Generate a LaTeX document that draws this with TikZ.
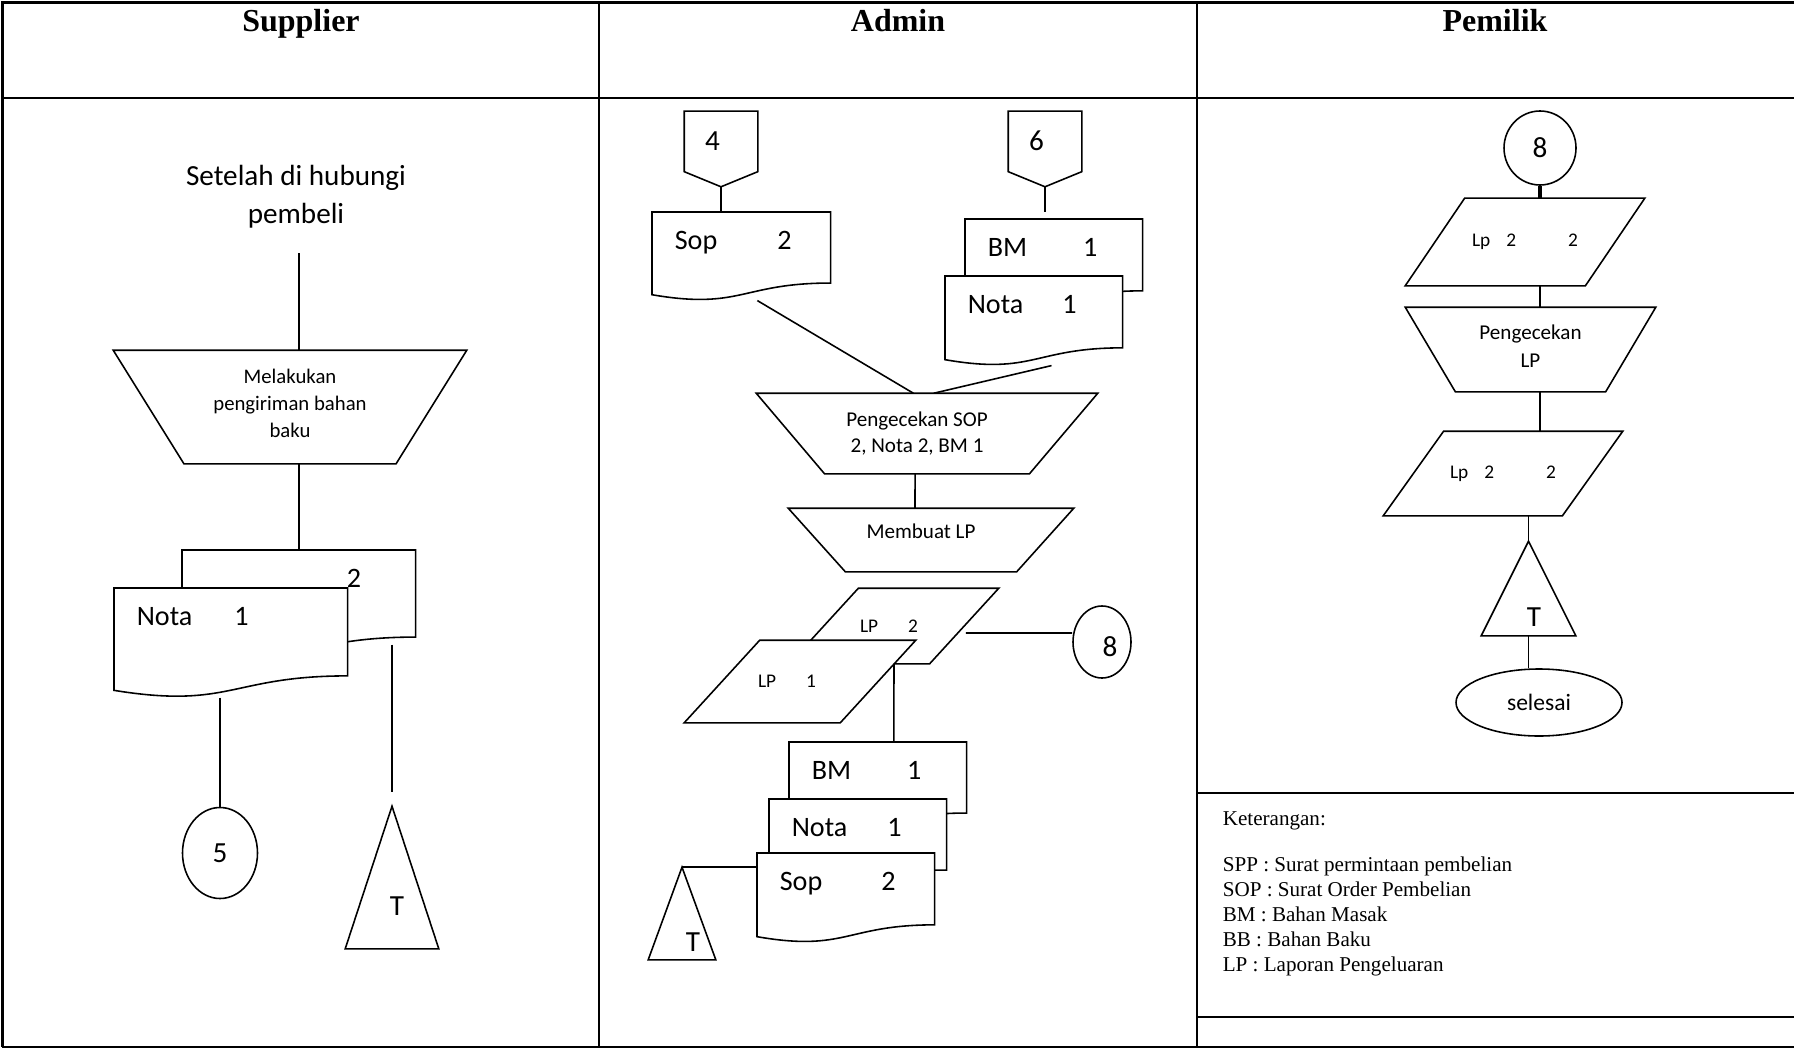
\documentclass[tikz,border=0pt]{standalone}
\usepackage{fontspec}
\setmainfont{Carlito}
\newfontfamily\timesfont{Liberation Serif}
\usetikzlibrary{calc,shapes.geometric}
\begin{document}
\begin{tikzpicture}[x=0.1mm,y=-0.1mm,line width=0.45pt,
    head/.style={anchor=base,font=\fontsize{9.1}{11}\timesfont\bfseries},
    circ/.style={ellipse,draw,fill=white,inner sep=0pt,font=\fontsize{8.3}{10}\selectfont},
    manop/.style 2 args={minimum width=#1,minimum height=#2,inner sep=0pt,align=center,
        append after command={\pgfextra{\draw[fill=white] (\tikzlastnode.north west) -- (\tikzlastnode.north east)
        -- ($(\tikzlastnode.south east)!.2!(\tikzlastnode.south west)$)
        -- ($(\tikzlastnode.south west)!.2!(\tikzlastnode.south east)$) -- cycle;}}},
    para/.style={inner sep=0pt,font=\fontsize{5.5}{6.6}\selectfont,
        append after command={\pgfextra{\draw[fill=white] ($(\tikzlastnode.north west)!#1!(\tikzlastnode.north east)$)
        -- (\tikzlastnode.north east) -- ($(\tikzlastnode.south east)!#1!(\tikzlastnode.south west)$)
        -- (\tikzlastnode.south west) -- cycle;}}},
    docu/.style 2 args={inner sep=0pt,inner xsep=2.2mm,text width=#1,text height=3.7mm,text depth=#2,
        align=left,font=\fontsize{8}{9.6}\selectfont,
        append after command={\pgfextra{\draw[fill=white] (\tikzlastnode.north west) -- (\tikzlastnode.north east)
        -- ($(\tikzlastnode.north east)!.802!(\tikzlastnode.south east)$)
        .. controls ($(\tikzlastnode.north)!.802!(\tikzlastnode.south)$) and ($(\tikzlastnode.north)!1.107!(\tikzlastnode.south)$)
        .. ($(\tikzlastnode.north west)!.934!(\tikzlastnode.south west)$) -- cycle;}}},
    offpage/.style={minimum width=7.2mm,minimum height=7.4mm,inner sep=0pt,text height=.4mm,text depth=0pt,
        font=\fontsize{8.3}{10}\selectfont,
        append after command={\pgfextra{\draw[fill=white] (\tikzlastnode.north west) -- (\tikzlastnode.north east)
        -- ($(\tikzlastnode.north east)!.8!(\tikzlastnode.south east)$) -- (\tikzlastnode.south)
        -- ($(\tikzlastnode.north west)!.8!(\tikzlastnode.south west)$) -- cycle;}}},
    tri/.style={inner sep=0pt,text height=7.6mm,text depth=0pt,font=\fontsize{8.3}{10}\selectfont,
        append after command={\pgfextra{\draw[fill=white] (\tikzlastnode.north) -- (\tikzlastnode.south east)
        -- (\tikzlastnode.south west) -- cycle;}}}]
    \useasboundingbox (0,0) rectangle (1794,1050);

    % table
    \draw[line width=0.7pt] (2.5,1047) -- (2.5,2.5) -- (1794,2.5);
    \draw[line width=0.7pt] (2.5,98) -- (1794,98) (2.5,1047) -- (1794,1047);
    \draw[line width=0.7pt] (599,2.5) -- (599,1047) (1197,2.5) -- (1197,1047);
    \draw[line width=0.7pt] (1197,793) -- (1794,793) (1197,1017) -- (1794,1017);
    \node[head] (supplier) at (301,32) {Supplier};
    \node[head] (admin) at (898,32) {Admin};
    \node[head] (pemilik) at (1495,32) {Pemilik};

    % supplier
    \node[align=center,inner sep=0pt,font=\fontsize{8.3}{10.8}\selectfont] (setelah) at (296,197) {Setelah di hubungi\\pembeli};
    \node[manop={35.2mm}{11.2mm},font=\fontsize{5.9}{7.7}\selectfont] (kirim) at (290,407) {Melakukan\\pengiriman bahan\\baku\rule[-2pt]{0pt}{0pt}};
    \node[docu={18.8mm}{7.0mm},anchor=north west] (nota2) at (182,550) {\hspace*{14.2mm}2};
    \node[docu={18.8mm}{7.1mm},anchor=north west] (nota1) at (114,588) {Nota\hspace{4.2mm}1};
    \node[circ,minimum width=7.5mm,minimum height=9.1mm] (con5) at (220,853) {5};
    \node[tri,minimum width=9.2mm,minimum height=14.1mm] (end1) at (392,877.5) {\hspace*{1mm}T};
    \draw[shorten <=2.4mm] (setelah.south -| nota2.north) -- (kirim.north -| nota2.north);
    \draw (kirim.south -| nota2.north) -- (nota2.north);
    \draw (nota1.south -| con5.north) -- (con5.north);
    \draw[shorten >=1.4mm] ($(end1.north |- nota2.south)+(0,-14)$) -- (end1.north);

    % admin
    \node[offpage] (off4) at (721,149) {4\hspace*{1.7mm}};
    \node[offpage] (off6) at (1045,149) {6\hspace*{1.7mm}};
    \node[docu={13.3mm}{5.0mm},anchor=north west] (sop1) at (652,212) {Sop\hspace{6mm}2};
    \node[docu={13.2mm}{5.1mm},anchor=north west] (bm1) at (965,219) {BM\hspace{5.6mm}1};
    \node[docu={13.2mm}{5.1mm},anchor=north west] (nota3) at (945,276) {Nota\hspace{3.9mm}1};
    \node[manop={34mm}{7.9mm},font=\fontsize{6}{7.4}\selectfont] (cek1) at (927,433.5) {Pengecekan SOP\hspace*{2mm}\\2, Nota 2, BM 1\hspace*{2mm}};
    \node[manop={28.4mm}{6.2mm},font=\fontsize{6}{7.4}\selectfont,text height=0pt,text depth=.3mm] (buat) at (931,540) {Membuat LP\hspace*{2mm}};
    \node[para=.33,minimum width=20.8mm,minimum height=7.4mm] (lp2) at (894,626) {LP\hspace{3mm}2\hspace*{1mm}};
    \node[para=.326,minimum width=23mm,minimum height=8.1mm] (lp1) at (800,681.5) {LP\hspace{3mm}1\hspace*{2.6mm}};
    \node[circ,minimum width=5.8mm,minimum height=7.2mm,text height=2.85mm,text depth=0pt] (con8) at (1102,642) {\hspace*{1.6mm}8};
    \node[docu={13.2mm}{5.0mm},anchor=north west] (bm2) at (789,742) {BM\hspace{5.6mm}1};
    \node[docu={13.2mm}{5.0mm},anchor=north west] (nota4) at (769,799) {Nota\hspace{4mm}1};
    \node[docu={13.2mm}{5.1mm},anchor=north west] (sop2) at (757,853) {Sop\hspace{5.9mm}2};
    \node[tri,minimum width=6.6mm,minimum height=9.1mm] (end2) at (682,913.5) {\hspace*{2.2mm}T};
    \draw (off4.south) -- (off4.south |- sop1.north);
    \draw[shorten >=.7mm] (off6.south) -- (off6.south |- bm1.north);
    \draw ($(sop1.south west)!.59!(sop1.south east)$) -- ($(cek1.north west)!.46!(cek1.north east)$);
    \draw ($(nota3.south west)!.6!(nota3.south east)$) -- ($(cek1.north west)!.52!(cek1.north east)$);
    \draw ($(cek1.south west)!.465!(cek1.south east)$) -- ($(buat.north west)!.444!(buat.north east)$);
    \draw ([xshift=-3.3mm,yshift=-.7mm]lp2.east) -- ([yshift=.9mm]con8.west);
    \draw (lp2.south) -- ([xshift=1.6mm]bm2.north);
    \draw (end2.north) -- (end2.north -| sop2.west);

    % pemilik
    \node[circ,minimum width=7.2mm,minimum height=7.4mm] (con8b) at (1540,148) {8};
    \node[para=.248,minimum width=23.8mm,minimum height=8.6mm] (lap1) at (1525,242) {Lp\hspace{1.6mm}2\hspace{5.2mm}2};
    \node[manop={24.9mm}{8.3mm},font=\fontsize{6}{8}\selectfont] (cek2) at (1530.5,349.5) {Pengecekan\\LP\rule[-1.7pt]{0pt}{0pt}};
    \node[para=.252,minimum width=23.8mm,minimum height=8.3mm] (lap2) at (1503,473.5) {Lp\hspace{1.6mm}2\hspace{5.2mm}2};
    \node[tri,minimum width=9.3mm,minimum height=9.3mm] (end3) at (1528.5,588.5) {\hspace*{1.1mm}T};
    \node[circ,minimum width=16.6mm,minimum height=6.7mm,font=\fontsize{6.7}{8}\selectfont] (selesai) at (1539,702.5) {selesai};
    \draw[line width=1.1pt] (con8b.south) -- (con8b.south |- lap1.north);
    \draw (lap1.south -| con8b.south) -- (cek2.north -| con8b.south);
    \draw (cek2.south -| con8b.south) -- (lap2.north -| con8b.south);
    \draw (end3.north |- lap2.south) -- (end3.north);
    \draw (end3.south) -- (end3.south |- selesai.north);

    \node[anchor=north west,align=left,inner sep=0pt,font=\fontsize{6}{7.1}\timesfont] (ket) at (1222,811)
        {Keterangan:\\[6pt]SPP : Surat permintaan pembelian\\SOP : Surat Order Pembelian\\BM : Bahan Masak\\BB : Bahan Baku\\LP : Laporan Pengeluaran};
\end{tikzpicture}
\end{document}
